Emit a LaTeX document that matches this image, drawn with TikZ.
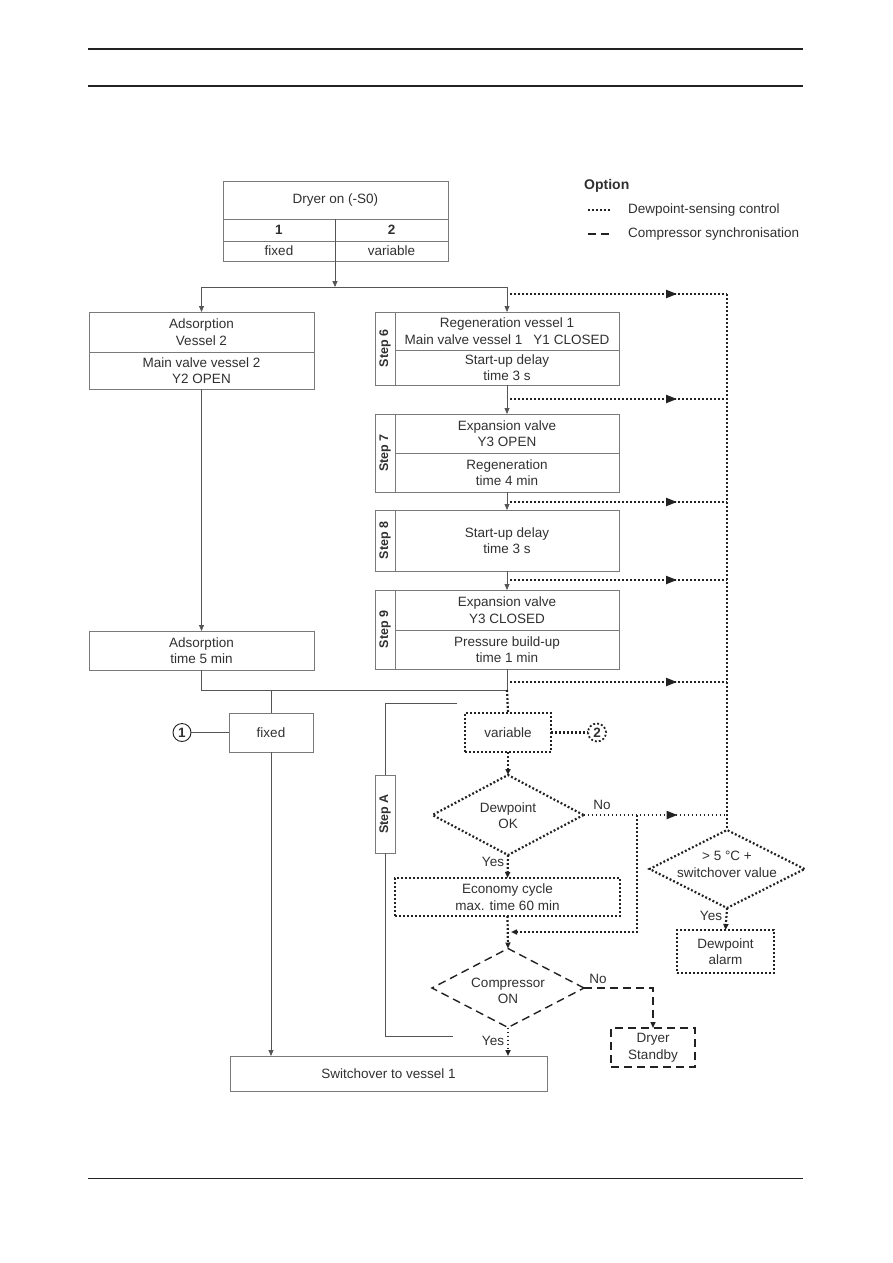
\documentclass[tikz,border=0pt]{standalone}
\usepackage{fontspec}
\setmainfont{Liberation Sans}
\usetikzlibrary{arrows.meta,shapes.geometric,decorations.markings}
\definecolor{bgray}{HTML}{7A7A7A}
\definecolor{cgray}{HTML}{555555}
\definecolor{ink}{HTML}{222222}
\definecolor{txt}{HTML}{303030}
\newcommand\mkbox[7][box]{\node[#1,minimum width={#5-#3},minimum height={#6-#4}] (#2) at ({(#3+#5)/2},{(#4+#6)/2}) {#7};}
\begin{document}
\begin{tikzpicture}[x=1pt,y=-1pt,
  font=\fontsize{13.5}{16.5}\selectfont,
  every node/.append style={text=txt},
  box/.style={draw=bgray,line width=0.8pt,inner sep=0pt,outer sep=0pt,align=center},
  dbox/.style={box,draw=ink,line width=2.2pt,dash pattern=on 1.9pt off 2.1pt},
  dashbox/.style={box,draw=ink,line width=1.4pt,dash pattern=on 8pt off 5pt},
  con/.style={draw=cgray,line width=0.8pt},
  dots/.style={draw=ink,line width=2.2pt,dash pattern=on 1.9pt off 2.1pt},
  dsh/.style={draw=ink,line width=1.4pt,dash pattern=on 8pt off 5pt},
  arr/.style={-{Triangle[length=6pt,width=5pt]}},
  midarr/.style={postaction={decorate,decoration={markings,mark=at position #1 with {\arrow{Triangle[length=11pt,width=8pt]}}}}},
  steplbl/.style={rotate=90,font=\fontsize{12.5}{14}\selectfont\bfseries},
  ddiam/.style={diamond,draw=ink,line width=2.2pt,dash pattern=on 1.9pt off 2.1pt,inner sep=0pt,outer sep=0pt},
  dashdiam/.style={diamond,draw=ink,line width=1.4pt,dash pattern=on 8pt off 5pt,inner sep=0pt,outer sep=0pt},
  lbl/.style={inner sep=0pt}
]
\useasboundingbox (0,0) rectangle (893,1263);
% page rules
\draw[ink,line width=1.2pt] (88,49) -- (803,49);
\draw[ink,line width=1.2pt] (88,86) -- (803,86);
\draw[ink,line width=1.0pt] (88,1178) -- (803,1178);

% legend
\node[lbl,anchor=west,font=\fontsize{14}{16}\selectfont\bfseries] (opt) at (584,186) {Option};
\coordinate (lga) at (588,210); \coordinate (lgb) at (611,210);
\draw[dots] (lga) -- (lgb);
\node[lbl,anchor=west] (lgt1) at (628,210) {Dewpoint-sensing control};
\coordinate (lgc) at (588,234); \coordinate (lgd) at (610,234);
\draw[dsh] (lgc) -- (lgd);
\node[lbl,anchor=west] (lgt2) at (628,234) {Compressor synchronisation};

% dryer on
\mkbox{dryT}{223}{181}{448}{219}{Dryer on (-S0)}
\mkbox{dry1}{223}{219}{335}{241}{\bfseries 1}
\mkbox{dry2}{335}{219}{448}{241}{\bfseries 2}
\mkbox{dryF}{223}{241}{335}{261}{fixed}
\mkbox{dryV}{335}{241}{448}{261}{variable}
\coordinate (split) at (335,287);
\draw[con,arr] (dry1.north east) -- (split);

% left column
\mkbox{ads1}{89}{312}{314}{352}{Adsorption\\Vessel 2}
\mkbox{ads2}{89}{352}{314}{389}{Main valve vessel 2\\Y2 OPEN}
\mkbox{ads3}{89}{631}{314}{670}{Adsorption\\time 5 min}
\draw[con,arr] (split) -| (ads1.north);
\draw[con,arr] (ads2.south) -- (ads3.north);

% steps
\mkbox{s6l}{375}{312}{395}{385}{}
\node[steplbl] (s6t) at (s6l) {Step 6};
\mkbox{s6a}{395}{312}{619}{350}{Regeneration vessel 1\\Main valve vessel 1\hspace{11pt}Y1 CLOSED}
\mkbox{s6b}{395}{350}{619}{385}{Start-up delay\\time 3 s}
\mkbox{s7l}{375}{414}{395}{492}{}
\node[steplbl] (s7t) at (s7l) {Step 7};
\mkbox{s7a}{395}{414}{619}{453}{Expansion valve\\Y3 OPEN}
\mkbox{s7b}{395}{453}{619}{492}{Regeneration\\time 4 min}
\mkbox{s8l}{375}{510}{395}{571}{}
\node[steplbl] (s8t) at (s8l) {Step 8};
\mkbox{s8a}{395}{510}{619}{571}{Start-up delay\\time 3 s}
\mkbox{s9l}{375}{590}{395}{669}{}
\node[steplbl] (s9t) at (s9l) {Step 9};
\mkbox{s9a}{395}{590}{619}{630}{Expansion valve\\Y3 CLOSED}
\mkbox{s9b}{395}{630}{619}{669}{Pressure build-up\\time 1 min}
\draw[con,arr] (split) -| (s6a.north);
\draw[con,arr] (s6b.south) -- (s7a.north);
\draw[con,arr] (s7b.south) -- (s8a.north);
\draw[con,arr] (s8a.south) -- (s9a.north);

% join
\coordinate (j1) at (507,690);
\coordinate (jf) at (271,690);
\draw[con] (s9b.south) -- (j1);
\draw[con] (ads3.south) |- (j1);
\mkbox{fixed}{229}{713}{313}{752}{fixed}
\draw[con] (jf) -- (fixed.north);
\node[circle,draw=ink,line width=0.9pt,minimum size=18pt,inner sep=0pt,font=\fontsize{13.5}{14}\selectfont\bfseries] (c1) at (182,732.5) {1};
\draw[con] (c1) -- (fixed.west);

\mkbox{sw}{230}{1056}{547}{1091}{Switchover to vessel 1}
\draw[con,arr] (fixed.south) -- (fixed.south |- sw.north);

% variable path
\mkbox[dbox]{var}{465}{713}{551}{752}{variable}
\draw[dots] (j1) -- (var.north);
\node[circle,draw=ink,line width=1.8pt,dash pattern=on 1.9pt off 2.1pt,minimum size=18pt,inner sep=0pt,font=\fontsize{13.5}{14}\selectfont\bfseries] (c2) at (597,732.5) {2};
\draw[dots] (var.east) -- (c2.west);

\node[ddiam,minimum width=151pt,minimum height=80pt] (d1) at (508,815) {};
\node[align=center,inner sep=0pt] (d1t) at (508,815.5) {Dewpoint\\OK};
\draw[dots,arr] (var.south) -- (d1.north);
\node[lbl] (y1) at (493,862) {Yes};
\node[lbl] (n1) at (602,805) {No};

\mkbox[dbox]{eco}{395}{878}{620}{916}{Economy cycle\\max. time 60 min}
\draw[dots,arr] (d1.south) -- (eco.north);

\node[dashdiam,minimum width=152pt,minimum height=79pt] (d2) at (508,988) {};
\node[align=center,inner sep=0pt] (d2t) at (508,991) {Compressor\\ON};
\draw[dots,arr] (eco.south) -- (d2.north);
\coordinate (nb) at (637,815);
\coordinate (m1r) at (511,932);
\draw[dots,arr] (nb) |- (m1r);
\node[lbl] (n2) at (598,979) {No};
\node[lbl] (y2) at (493,1041) {Yes};
\draw[dots,arr] (d2.south) -- (d2.south |- sw.north);

\mkbox[dashbox]{stb}{611}{1028}{695}{1067}{Dryer\\Standby}
\coordinate (dc) at (653,988);
\draw[dsh,arr] (d2.east) -- (dc) -- (stb.north);

% step A bracket
\mkbox{sA}{375}{775}{395}{853}{}
\node[steplbl] (sAt) at (sA) {Step A};
\coordinate (sa1) at (457,703); \coordinate (sa2) at (385,703);
\coordinate (sa3) at (385,1036); \coordinate (sa4) at (453,1036);
\draw[con] (sa1) -- (sa2) -- (sA.north);
\draw[con] (sA.south) -- (sa3) -- (sa4);

% right side dewpoint monitoring
\node[ddiam,minimum width=155pt,minimum height=78pt] (d3) at (727,869) {};
\node[align=center,inner sep=0pt] (d3t) at (727,864.5) {> 5 °C +\\switchover value};
\coordinate (rtop) at (727,294);
\draw[dots] (rtop) -- (d3.north);
\foreach \yy/\nm in {294/ha,399/hb,502/hc,580/hd,682/he}{
  \coordinate (\nm) at (510,\yy);
  \coordinate (\nm r) at (727,\yy);
  \draw[dots,midarr=167pt] (\nm) -- (\nm r);
}
\coordinate (d1r) at (727,815);
\draw[dots,midarr=94pt] (d1.east) -- (d1r);
\node[lbl] (y3) at (711,916) {Yes};
\mkbox[dbox]{alm}{677}{930}{774}{973}{Dewpoint\\alarm}
\draw[dots,arr] (d3.south) -- (alm.north);
\end{tikzpicture}
\end{document}
